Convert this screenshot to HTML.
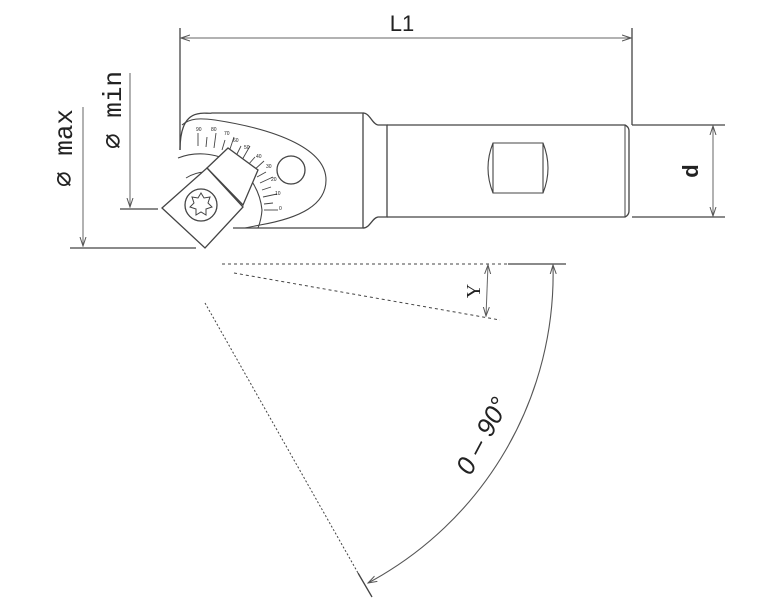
<!DOCTYPE html>
<html><head><style>html,body{margin:0;padding:0;background:#fff}svg{display:block}</style></head>
<body>
<svg width="771" height="600" viewBox="0 0 771 600" xmlns="http://www.w3.org/2000/svg" font-family="Liberation Mono, monospace">
<defs>
<marker id="a" markerWidth="10" markerHeight="8" refX="9" refY="4" orient="auto-start-reverse" markerUnits="userSpaceOnUse"><path d="M0,1 L9,4 L0,7" fill="none" stroke="#555" stroke-width="1"/></marker>
</defs>
<g stroke="#444" stroke-width="1.3" fill="none">
<line x1="180" y1="28" x2="180" y2="150"/>
<line x1="632" y1="28" x2="632" y2="125"/>
<line x1="181" y1="38" x2="631" y2="38" stroke="#666" stroke-width="1" marker-start="url(#a)" marker-end="url(#a)"/>
<path d="M180,150 C180,125 188,116 197,114 C204,112 208,114 212,113 L363,113 L363,228 L233,228"/>
<path d="M363,113 C370,113 372,124 378,125 L387,125 L387,217 L378,217 C372,218 370,228 363,228"/>
<path d="M387,125 L625,125 Q629,127 629,131 L629,211 Q629,215 625,217 L387,217"/>
<line x1="625" y1="125" x2="625" y2="217" stroke-width="1"/>
<path d="M493,143 L543,143 Q553,168 543,193 L493,193 Q483,168 493,143 Z M493,143 L493,193 M543,143 L543,193" stroke-width="1.1"/>
<line x1="632" y1="125" x2="725" y2="125"/>
<line x1="632" y1="217" x2="725" y2="217"/>
<line x1="713" y1="126" x2="713" y2="216" stroke="#666" stroke-width="1" marker-start="url(#a)" marker-end="url(#a)"/>
<path d="M182,125 C190,118 200,118 215,120 C280,130 326,150 326,180 C326,205 300,218 260,225 L245,228" stroke-width="1.1"/>
<circle cx="291" cy="170" r="14"/>
<path d="M178,158 A62 62 0 0 1 262,210 A62 62 0 0 1 258,228" stroke-width="1.1"/>
<path d="M186,178 A38 38 0 0 1 205,172" stroke-width="1"/>
<g stroke-width="0.9">
<line x1="198" y1="146" x2="198" y2="133"/><line x1="206" y1="147" x2="207" y2="137"/><line x1="214" y1="148" x2="216" y2="133"/>
<line x1="222" y1="150" x2="225" y2="140"/><line x1="229" y1="152" x2="234" y2="137"/><line x1="236" y1="156" x2="241" y2="146"/>
<line x1="242" y1="160" x2="250" y2="146"/><line x1="248" y1="165" x2="255" y2="157"/><line x1="253" y1="171" x2="264" y2="161"/>
<line x1="257" y1="177" x2="266" y2="172"/><line x1="260" y1="183" x2="273" y2="177"/><line x1="262" y1="190" x2="271" y2="187"/>
<line x1="263" y1="197" x2="277" y2="194"/><line x1="264" y1="204" x2="273" y2="203"/><line x1="264" y1="210" x2="278" y2="210"/>
<line x1="238" y1="173" x2="243" y2="168"/>
</g>
<polygon points="207,168 228,148 258,170 243,205" fill="#fff"/>
<polygon points="162,208 207,168 243,207 205,248" fill="#fff"/>
<circle cx="201" cy="205" r="16"/>
<path d="M201,193 l3,5 6,-1 -2,6 4,4 -6,2 0,6 -5,-3 -5,3 0,-6 -6,-2 4,-4 -2,-6 6,1 z" stroke-width="1"/>
<line x1="83" y1="107" x2="83" y2="246" stroke="#666" stroke-width="1" marker-end="url(#a)"/>
<line x1="70" y1="248" x2="196" y2="248"/>
<line x1="130" y1="73" x2="130" y2="207" stroke="#666" stroke-width="1" marker-end="url(#a)"/>
<line x1="120" y1="209" x2="158" y2="209"/>
<line x1="222" y1="264" x2="508" y2="264" stroke-dasharray="3,3" stroke-width="1"/>
<line x1="508" y1="264" x2="566" y2="264"/>
<line x1="234" y1="273" x2="500" y2="320" stroke-dasharray="3,3" stroke-width="1"/>
<line x1="205" y1="303" x2="362" y2="580" stroke-dasharray="2,2" stroke-width="1"/>
<line x1="358" y1="573" x2="372" y2="597"/>
<line x1="488" y1="265" x2="486" y2="316" stroke="#666" stroke-width="1" marker-start="url(#a)" marker-end="url(#a)"/>
<path d="M553,265 A350 350 0 0 1 368,583" stroke="#555" stroke-width="1.1" marker-start="url(#a)" marker-end="url(#a)"/>
</g>
<g fill="#222">
<text x="402" y="31" font-family="Liberation Sans, sans-serif" font-size="22" text-anchor="middle">L1</text>
<text transform="translate(698,171) rotate(-90)" font-family="Liberation Sans, sans-serif" font-size="22" font-weight="bold" text-anchor="middle">d</text>
<text transform="translate(72,148) rotate(-90)" font-size="26" text-anchor="middle">⌀ max</text>
<text transform="translate(121,110) rotate(-90)" font-size="26" text-anchor="middle">⌀ min</text>
<text transform="translate(480,291) rotate(-90)" font-family="Liberation Serif, serif" font-size="20" text-anchor="middle">Y</text>
<text transform="translate(490,440) rotate(-62)" font-family="Liberation Sans, sans-serif" font-size="26" font-style="italic" text-anchor="middle">0 – 90°</text>
<g font-family="Liberation Sans, sans-serif" font-size="5">
<text x="196" y="131">90</text><text x="211" y="131">80</text><text x="224" y="135">70</text><text x="233" y="142">60</text><text x="244" y="149">50</text><text x="256" y="158">40</text><text x="266" y="168">30</text><text x="271" y="181">20</text><text x="275" y="195">10</text><text x="279" y="210">0</text>
</g>
</g>
</svg>
</body></html>
